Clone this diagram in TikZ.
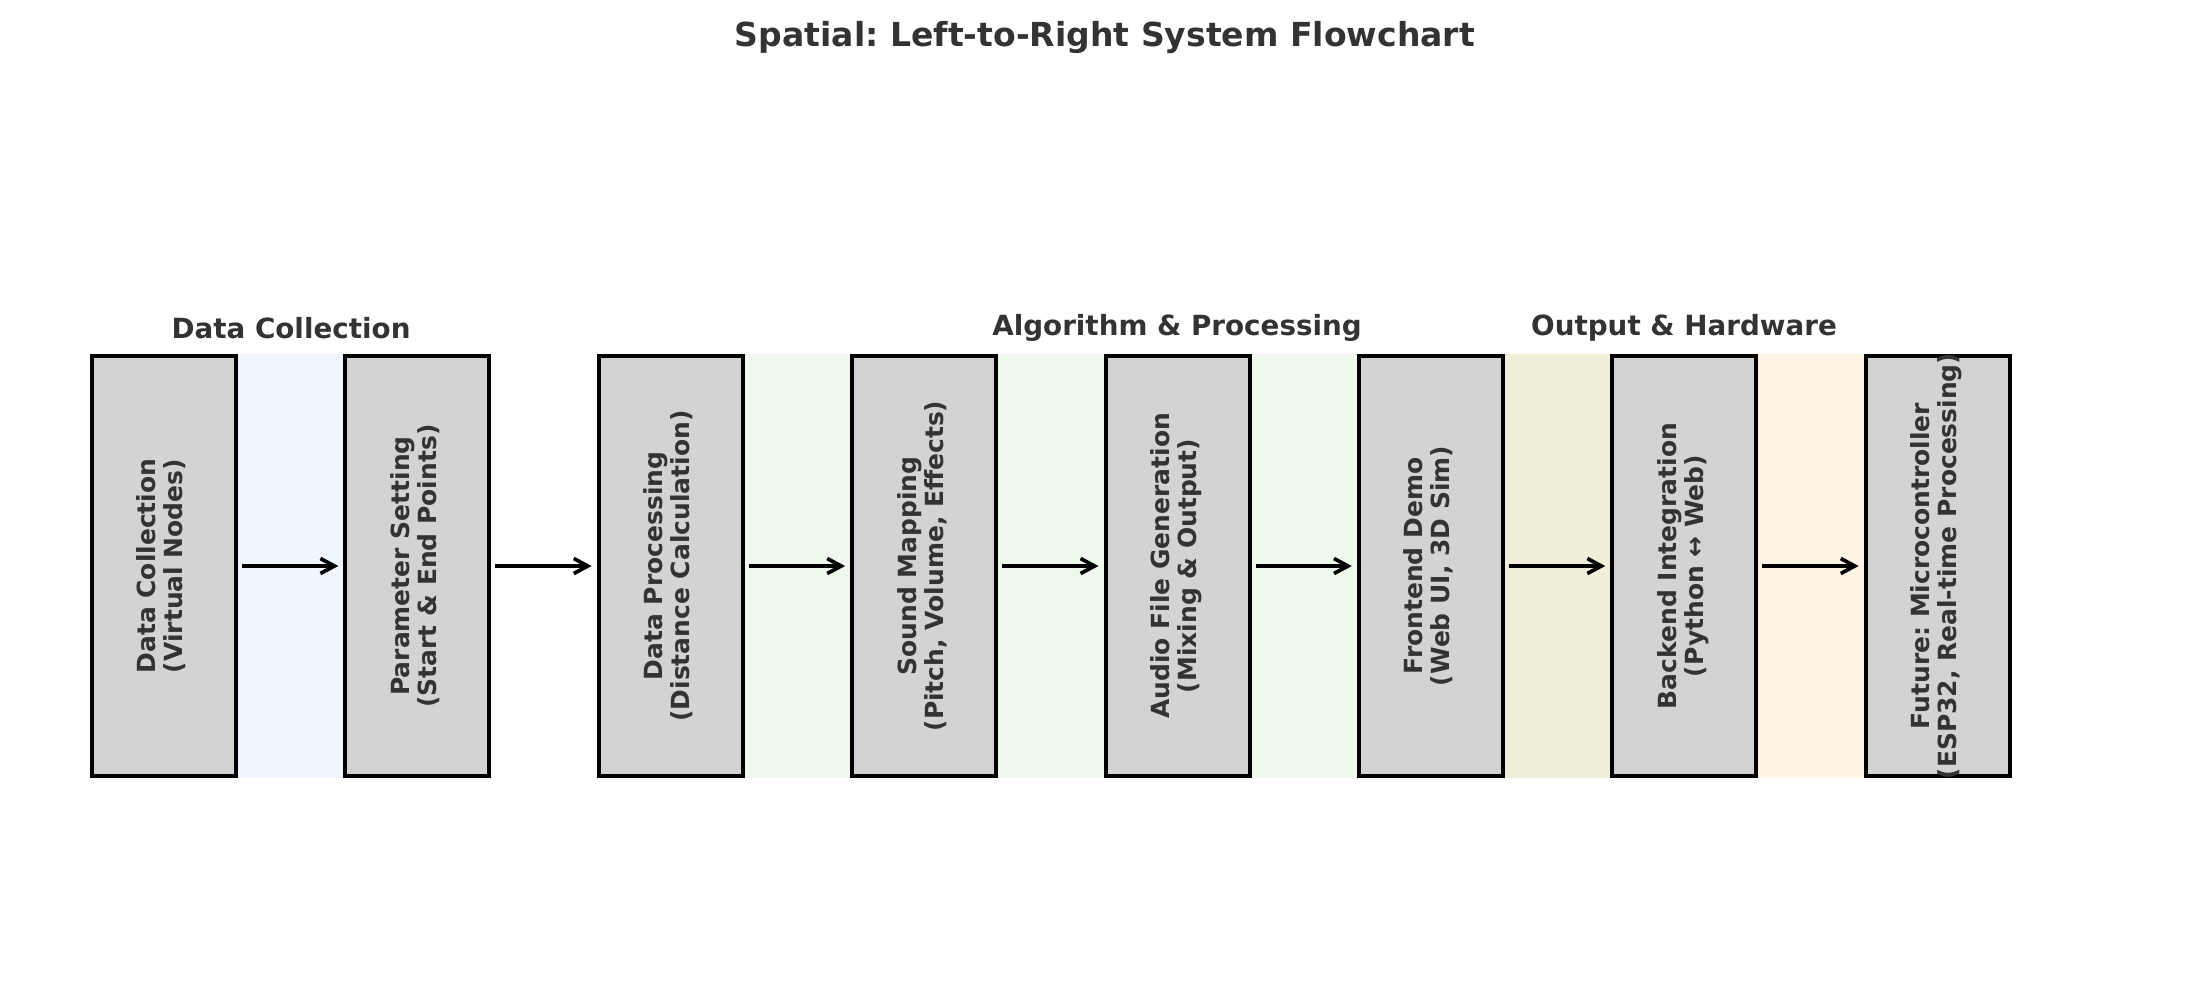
\documentclass[tikz,border=0pt]{standalone}
\usepackage{fontspec}
\setmainfont{DejaVu Sans}
\usepackage{graphicx}
\usetikzlibrary{arrows.meta,positioning,backgrounds}

\definecolor{inkgray}{HTML}{333333}
\definecolor{boxgray}{HTML}{D3D3D3}
\definecolor{bandblue}{HTML}{EFF6FD}
\definecolor{bandgreen}{HTML}{EEF8EC}
\definecolor{bandolive}{HTML}{F1EFDA}
\definecolor{bandorange}{HTML}{FEF3E7}

\frenchspacing

% two lines of text, turned to read upwards, no size of its own
\newcommand{\sidelabel}[2]{\smash{\raisebox{-.5\height}{\rotatebox{90}{%
  \begin{tabular}{@{}c@{}}#1\\#2\end{tabular}}}}}

\begin{document}
\begin{tikzpicture}[x=0.01cm,y=-0.01cm,
  node distance=1.052cm,
  stage/.style={draw=black,line width=1.15pt,fill=boxgray,
    minimum width=1.44cm,minimum height=4.2cm,inner sep=0pt,
    text=inkgray,font=\fontsize{7.1}{7.7}\selectfont\bfseries},
  group/.style={text=inkgray,font=\fontsize{7.9}{9}\selectfont\bfseries},
  flow/.style={line width=1.05pt,-{Straight Barb[length=1.4mm,width=1.5mm]},
    shorten <=0.4mm,shorten >=0.5mm}]

  \useasboundingbox (0,0) rectangle (2210,1006);

  \node[text=inkgray,font=\fontsize{9.4}{11}\selectfont\bfseries] (title) at (1105,38)
    {Spatial: Left-to-Right System Flowchart};

  \node[stage] (collect) at (164,566) {\sidelabel{Data Collection}{(Virtual Nodes)}};
  \node[stage,right=of collect] (params) {\sidelabel{Parameter Setting}{(Start \& End Points)}};
  \node[stage,right=of params] (process) {\sidelabel{Data Processing}{(Distance Calculation)}};
  \node[stage,right=of process] (mapping) {\sidelabel{Sound Mapping}{(Pitch, Volume, Effects)}};
  \node[stage,right=of mapping] (audio) {\sidelabel{Audio File Generation}{(Mixing \& Output)}};
  \node[stage,right=of audio] (frontend) {\sidelabel{Frontend Demo}{(Web UI, 3D Sim)}};
  \node[stage,right=of frontend] (backend) {\sidelabel{Backend Integration}{(Python ↔ Web)}};
  \node[stage,right=of backend] (future) {\sidelabel{Future: Microcontroller}{(ESP32, Real-time Processing)}};

  \node[group] (grpdata) at (291,328) {Data Collection};
  \node[group] (grpalgo) at (1177,328) {Algorithm \& Processing};
  \node[group] (grpout) at (1684,328) {Output \& Hardware};

  \begin{scope}[on background layer]
    \fill[bandblue] (collect.north east) rectangle (params.south west);
    \fill[bandgreen] (process.north east) rectangle (mapping.south west);
    \fill[bandgreen] (mapping.north east) rectangle (audio.south west);
    \fill[bandgreen] (audio.north east) rectangle (frontend.south west);
    \fill[bandolive] (frontend.north east) rectangle (backend.south west);
    \fill[bandorange] (backend.north east) rectangle (future.south west);
  \end{scope}

  \draw[flow] (collect) -- (params);
  \draw[flow] (params) -- (process);
  \draw[flow] (process) -- (mapping);
  \draw[flow] (mapping) -- (audio);
  \draw[flow] (audio) -- (frontend);
  \draw[flow] (frontend) -- (backend);
  \draw[flow] (backend) -- (future);

\end{tikzpicture}
\end{document}
